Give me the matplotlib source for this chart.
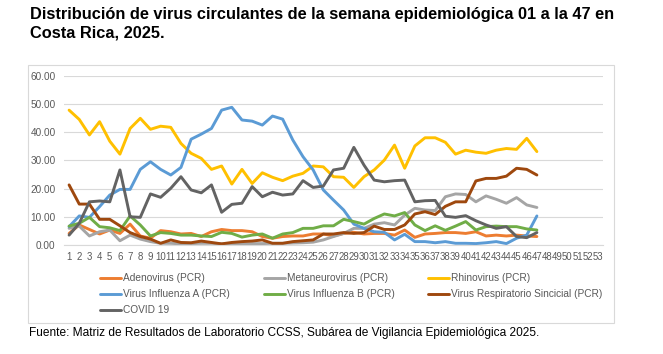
# Distribucion de virus circulantes, semana 01 a 47, Costa Rica 2025
import matplotlib
matplotlib.use("Agg")
import matplotlib.pyplot as plt
from matplotlib.patches import Rectangle

weeks = list(range(1, 48))
week_labels = [str(i) for i in range(1, 54)]

adenovirus = [4.1, 7.1, 5.5, 3.9, 5.3, 4.1, 7.4, 3.2, 2.4, 5.1, 4.7, 3.9, 4.1, 3.0, 4.7, 5.5,
              5.1, 5.1, 4.7, 3.0, 2.4, 3.0, 3.2, 3.2, 3.9, 3.9, 3.2, 4.1, 4.5, 3.9, 4.1, 4.1,
              3.5, 5.3, 2.7, 3.9, 4.1, 4.4, 4.4, 4.1, 4.7, 3.2, 3.5, 3.2, 3.5, 3.2, 3.0]
metaneurovirus = [5.9, 6.7, 3.2, 4.7, 5.3, 1.5, 3.5, 2.1, 1.2, 0.6, 0.6, 0.4, 0.5, 0.6, 0.6, 0.4,
                  0.4, 0.4, 0.5, 0.5, 0.6, 0.6, 0.7, 0.8, 1.0, 1.8, 3.0, 4.1, 5.9, 5.9, 7.4, 7.9,
                  7.1, 10.6, 13.0, 12.4, 12.2, 17.1, 18.1, 17.9, 15.3, 17.4, 16.2, 14.8, 16.8, 14.2, 13.3]
rhinovirus = [47.8, 44.5, 39.0, 43.7, 36.8, 32.2, 41.3, 44.9, 41.0, 42.1, 41.7, 36.0, 32.5, 30.7,
              26.8, 28.0, 21.6, 26.8, 21.8, 25.6, 24.0, 22.8, 24.4, 25.4, 28.0, 27.7, 24.2, 24.0,
              20.4, 24.2, 26.6, 30.1, 35.4, 27.2, 35.1, 38.0, 38.0, 36.4, 32.2, 33.6, 32.9, 32.5,
              33.6, 34.2, 33.9, 37.8, 33.1]
influenza_a = [6.5, 10.3, 9.8, 13.6, 17.7, 19.7, 19.7, 26.8, 29.5, 26.8, 24.8, 27.5, 37.5, 39.3,
               41.3, 47.8, 48.8, 44.3, 43.9, 42.5, 45.7, 44.6, 37.2, 31.3, 26.6, 19.5, 15.9, 12.4,
               7.4, 5.9, 4.7, 4.5, 1.8, 3.8, 1.2, 1.2, 0.8, 1.2, 0.6, 0.6, 0.5, 0.8, 1.2, 0.5,
               2.4, 3.5, 10.3]
influenza_b = [6.7, 7.7, 9.8, 6.5, 6.1, 5.1, 10.3, 7.1, 3.2, 4.4, 4.1, 3.5, 3.5, 3.2, 3.0, 4.5,
               4.1, 2.8, 3.5, 3.9, 2.4, 3.9, 4.4, 5.9, 5.9, 6.8, 6.8, 9.1, 8.3, 7.4, 9.4, 11.0,
               10.3, 11.5, 7.1, 5.1, 6.8, 5.2, 6.7, 8.3, 5.3, 6.5, 6.7, 6.5, 6.5, 5.7, 5.3]
rsv = [21.3, 14.5, 14.5, 9.1, 9.1, 6.8, 4.4, 3.0, 2.1, 0.6, 1.8, 0.9, 0.8, 1.4, 0.9, 0.4, 0.9,
       1.2, 1.4, 1.8, 0.6, 0.6, 1.2, 1.5, 1.8, 3.9, 3.9, 4.4, 4.1, 4.4, 6.7, 5.5, 5.5, 7.1,
       11.0, 11.8, 10.8, 13.7, 15.3, 15.3, 22.7, 23.6, 23.6, 24.4, 27.2, 26.8, 24.8]
covid = [3.5, 7.7, 15.3, 15.6, 15.3, 26.6, 10.0, 9.8, 18.1, 16.9, 20.1, 24.2, 19.5, 18.5, 21.3,
         11.6, 14.4, 14.8, 20.7, 17.1, 18.7, 17.7, 18.1, 22.8, 20.4, 20.9, 26.6, 27.2, 34.6,
         28.3, 23.0, 22.4, 22.8, 23.0, 15.3, 15.7, 15.8, 10.2, 9.8, 10.4, 8.6, 7.1, 5.9, 6.5,
         3.0, 2.6, 4.4]

series = [
    ("Adenovirus (PCR)", adenovirus, "#ED7D31"),
    ("Metaneurovirus (PCR)", metaneurovirus, "#A5A5A5"),
    ("Rhinovirus (PCR)", rhinovirus, "#FFC000"),
    ("Virus Influenza A (PCR)", influenza_a, "#5B9BD5"),
    ("Virus Influenza B (PCR)", influenza_b, "#70AD47"),
    ("Virus Respiratorio Sincicial (PCR)", rsv, "#9E480E"),
    ("COVID 19", covid, "#636363"),
]

W, H = 663, 354
fig = plt.figure(figsize=(W / 100, H / 100), dpi=100)
plt.rcParams["font.family"] = ["Liberation Sans", "DejaVu Sans"]

# outer chart frame
fig.patches.append(Rectangle((28 / W, 1 - 322.7 / H), 586 / W, 257.7 / H, transform=fig.transFigure,
                             fill=False, edgecolor="#d9d9d9", linewidth=0.8))

ax = fig.add_axes([64 / W, 1 - 245 / H, 539 / W, 169.3 / H])
lines = {}
for name, vals, color in series:
    ln, = ax.plot(weeks, vals, color=color, linewidth=2.1, label=name, solid_capstyle="round")
    lines[name] = ln

ax.set_xlim(0.5, 53.5)
ax.set_ylim(0, 60)
ax.set_yticks(range(0, 61, 10))
ax.set_yticklabels([f"{v:.2f}" for v in range(0, 61, 10)])
ax.set_xticks(range(1, 54))
ax.set_xticklabels(week_labels)
ax.grid(axis="y", color="#d9d9d9", linewidth=0.8)
ax.set_axisbelow(True)
for s in ["top", "right", "left"]:
    ax.spines[s].set_visible(False)
ax.spines["bottom"].set_color("#d9d9d9")
ax.tick_params(axis="both", length=0, colors="#595959")
ax.tick_params(axis="x", labelsize=6.9, pad=5)
ax.tick_params(axis="y", labelsize=7.2, pad=6)

# legend: matplotlib fills column-wise, reorder to get Excel's row order
order = ["Adenovirus (PCR)", "Virus Influenza A (PCR)", "COVID 19",
         "Metaneurovirus (PCR)", "Virus Influenza B (PCR)",
         "Rhinovirus (PCR)", "Virus Respiratorio Sincicial (PCR)"]
leg = fig.legend([lines[n] for n in order], order, ncol=3, frameon=False,
                 loc="upper left", bbox_to_anchor=(96 / W, 1 - 269 / H),
                 fontsize=7.3, handlelength=2.1, handletextpad=0.2,
                 columnspacing=3.3, labelspacing=0.6, borderaxespad=0)
for t in leg.get_texts():
    t.set_color("#595959")

title_font = ["Liberation Sans Narrow", "Liberation Sans"]
fig.text(30 / W, 1 - 14 / H, "Distribución de virus circulantes de la semana epidemiológica 01 a la 47 en",
         fontsize=11.8, fontweight="bold", va="center", ha="left", family=title_font)
fig.text(30 / W, 1 - 33 / H, "Costa Rica, 2025.",
         fontsize=11.8, fontweight="bold", va="center", ha="left", family=title_font)
fig.text(29 / W, 1 - 333 / H,
         "Fuente: Matriz de Resultados de Laboratorio CCSS, Subárea de Vigilancia Epidemiológica 2025.",
         fontsize=8.6, va="center", ha="left")

fig.savefig("out.png", dpi=100)
